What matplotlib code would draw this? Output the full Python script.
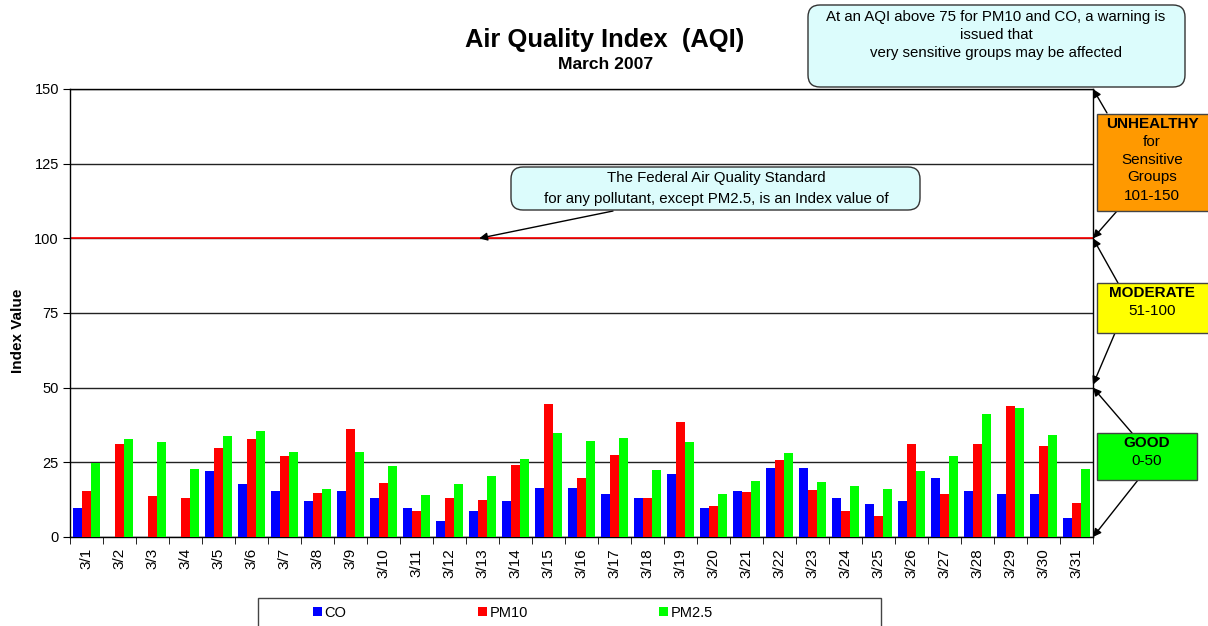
""" Air Quality Index bar chart, March 2007 """

import matplotlib
matplotlib.use("Agg")
import matplotlib.pyplot as plt
import numpy as np
from matplotlib.patches import FancyBboxPatch, Rectangle

plt.rcParams['font.family'] = ['Liberation Sans', 'DejaVu Sans']

days = [f"3/{d}" for d in range(1, 32)]
co = [9.7, 0, 0, 0, 22.1, 17.7, 15.4, 12.1, 15.4, 13.1,
      9.7, 5.4, 8.7, 12.1, 16.4, 16.4, 14.4, 13.1, 21.1, 9.7,
      15.4, 23.1, 23.1, 13.1, 11.0, 12.1, 19.8, 15.4, 14.4, 14.4, 6.4]
pm10 = [15.4, 31.1, 13.7, 13.1, 29.8, 32.8, 27.1, 14.7, 36.2, 18.1,
        8.7, 13.1, 12.4, 24.1, 44.5, 19.8, 27.5, 13.1, 38.5, 10.4,
        15.1, 25.8, 15.7, 8.7, 7.0, 31.1, 14.4, 31.1, 43.9, 30.5, 11.4]
pm25 = [24.7, 32.8, 31.8, 22.8, 33.8, 35.5, 28.5, 16.1, 28.5, 23.8,
        14.1, 17.7, 20.4, 26.1, 34.8, 32.1, 33.1, 22.4, 31.8, 14.4,
        18.8, 28.1, 18.4, 17.1, 16.1, 22.1, 27.1, 41.2, 43.2, 34.2, 22.8]
y_ticks = [0, 25, 50, 75, 100, 125, 150]

W, H = 1208, 626
fig = plt.figure(figsize=(W / 100, H / 100), dpi=100)
ax = fig.add_axes([70 / W, 1 - 537 / H, (1093 - 70) / W, (537 - 89) / H])

x = np.arange(len(days))
bw = 0.27
ax.bar(x - bw, co, bw, color='#0000ff', label='CO', zorder=3)
ax.bar(x, pm10, bw, color='#ff0000', label='PM10', zorder=3)
ax.bar(x + bw, pm25, bw, color='#00ff00', label='PM2.5', zorder=3)

ax.set_xlim(-0.5, len(days) - 0.5)
ax.set_ylim(0, 150)
ax.set_yticks(y_ticks)
ax.tick_params(axis='y', labelsize=10.5, length=5, pad=3, direction='out')
ax.yaxis.grid(True, color='#222222', lw=1, zorder=1)
ax.axhline(100, color='#ff0000', lw=1.2, zorder=2)

ax.set_xticks(x)
ax.set_xticklabels(days, rotation=90, fontsize=11)
ax.set_xticks(np.arange(len(days) + 1) - 0.5, minor=True)
ax.tick_params(axis='x', which='major', length=0, pad=8)
ax.tick_params(axis='x', which='minor', length=5, direction='out')
for s in ax.spines.values():
    s.set_color('black')
    s.set_linewidth(1)

fig.text(18 / W, 1 - 331 / H, "Index Value", rotation=90, ha='center',
         va='center', fontsize=11, fontweight='bold')

fig.text(605 / W, 1 - 47 / H, "Air Quality Index  (AQI)", ha='center',
         va='baseline', fontsize=18.4, fontweight='bold')
fig.text(606 / W, 1 - 69 / H, "March 2007", ha='center', va='baseline',
         fontsize=12.6, fontweight='bold')

inch = fig.dpi_scale_trans


def px(xp, yp):
    return (xp / 100, (H - yp) / 100)


def box(x0, y0, x1, y1, color, rounded=False):
    if rounded:
        p = FancyBboxPatch(px(x0, y1), (x1 - x0) / 100, (y1 - y0) / 100,
                           boxstyle="round,pad=0,rounding_size=0.12",
                           fc=color, ec='#333333', lw=1, transform=inch)
    else:
        p = Rectangle(px(x0, y1), (x1 - x0) / 100, (y1 - y0) / 100,
                      fc=color, ec='#444444', lw=1, transform=inch)
    fig.patches.append(p)


def label(xp, yp, s, bold=False, size=11):
    fig.text(xp / W, 1 - yp / H, s, ha='center', va='center',
             fontsize=size, fontweight='bold' if bold else 'normal')


def arrow(x0, y0, value):
    ax.annotate('', xy=(1, value), xycoords=('axes fraction', 'data'),
                xytext=px(x0, y0), textcoords=inch, annotation_clip=False,
                arrowprops=dict(arrowstyle='-|>', color='black', lw=1,
                                mutation_scale=12, shrinkA=0, shrinkB=0))


# warning note
box(808, 5, 1185, 87, '#dcfcfc', rounded=True)
label(996, 17, "At an AQI above 75 for PM10 and CO, a warning is", size=10.8)
label(996, 35, "issued that", size=10.8)
label(996, 53, "very sensitive groups may be affected", size=10.8)
arrow(1107, 113, 150)

# federal standard note
box(511, 167, 920, 210, '#dcfcfc', rounded=True)
label(716, 178, "The Federal Air Quality Standard", size=10.8)
label(716, 199, "for any pollutant, except PM2.5, is an Index value of",
      size=10.8)
ax.annotate('', xy=(11.9, 100), xycoords='data', xytext=px(613, 211),
            textcoords=inch, annotation_clip=False,
            arrowprops=dict(arrowstyle='-|>', color='black', lw=1,
                            mutation_scale=12, shrinkA=0, shrinkB=0))

# category boxes
box(1097, 114, 1212, 211, '#ff9900')
label(1152, 124, "UNHEALTHY", bold=True)
label(1152, 142, "for")
label(1152, 160, "Sensitive")
label(1152, 177, "Groups")
label(1152, 196, "101-150")
arrow(1117, 211, 100)

box(1097, 283, 1212, 333, '#ffff00')
label(1152, 293, "MODERATE", bold=True)
label(1152, 311, "51-100")
arrow(1118, 283, 100)
arrow(1115, 333, 51)

box(1097, 433, 1197, 480, '#00ff00')
label(1147, 443, "GOOD", bold=True)
label(1147, 461, "0-50")
arrow(1132, 433, 50)
arrow(1138, 480, 0)

# legend
box(258, 598, 881, 640, 'white')
fig.legend(loc='center', bbox_to_anchor=(513 / W, 1 - 613 / H), ncol=3,
           frameon=False, fontsize=10.5, handlelength=0.6, handleheight=0.6,
           handletextpad=0.2, columnspacing=9.0)

fig.savefig("out.png", dpi=100)
